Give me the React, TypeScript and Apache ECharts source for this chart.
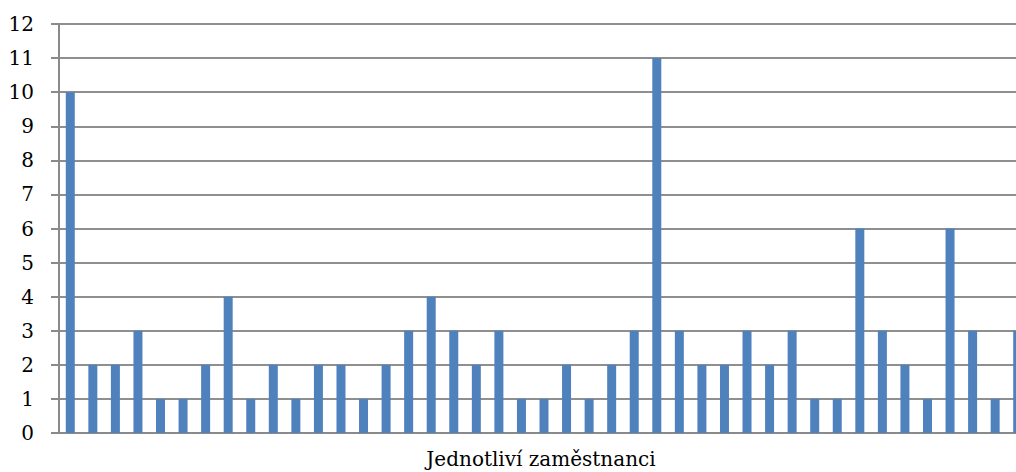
import React, { useEffect, useRef } from "react";
import * as echarts from "echarts";

// Employees (one bar each) and the count recorded for each of them
const employees: string[] = Array.from({ length: 43 }, (_, i) => String(i + 1));
const counts: number[] = [
  10, 2, 2, 3, 1, 1, 2, 4, 1, 2, 1, 2, 2, 1, 2, 3, 4, 3, 2, 3, 1, 1, 2, 1, 2, 3,
  11, 3, 2, 2, 3, 2, 3, 1, 1, 6, 3, 2, 1, 6, 3, 1, 3,
];
const yTicks: number[] = [0, 1, 2, 3, 4, 5, 6, 7, 8, 9, 10, 11, 12];
const xTitle = "Jednotliví zaměstnanci";

const FONT = "DejaVu Serif";

export default function App() {
  const ref = useRef<HTMLDivElement>(null);

  useEffect(() => {
    if (!ref.current) return;
    const chart = echarts.init(ref.current, undefined, { renderer: "svg" });
    chart.setOption({
      animation: false,
      backgroundColor: "#ffffff",
      // the plot runs a little past the right edge, so the last bar is clipped
      grid: {
        left: 59,
        top: 24,
        height: 409,
        width: 970,
        containLabel: false,
        outerBoundsMode: "none",
      },
      xAxis: {
        type: "category",
        data: employees,
        axisLine: { show: true, lineStyle: { color: "#8a8a8a", width: 2 } },
        axisTick: { show: false },
        axisLabel: { show: false },
        splitLine: { show: false },
      },
      yAxis: {
        type: "value",
        min: yTicks[0],
        max: yTicks[yTicks.length - 1],
        interval: 1,
        axisLine: { show: true, lineStyle: { color: "#8a8a8a", width: 2 } },
        axisTick: { show: true, length: 8, lineStyle: { color: "#8a8a8a", width: 2 } },
        axisLabel: {
          margin: 25,
          color: "#000000",
          fontFamily: FONT,
          fontSize: 20,
        },
        splitLine: { show: true, lineStyle: { color: "#8f8f8f", width: 2 } },
      },
      series: [
        {
          type: "bar",
          data: counts,
          barWidth: 9,
          itemStyle: { color: "#4F81BD" },
        },
      ],
      graphic: [
        {
          type: "text",
          x: 541,
          y: 459,
          style: {
            text: xTitle,
            fill: "#000000",
            fontFamily: FONT,
            fontSize: 20,
            align: "center",
            verticalAlign: "middle",
          },
        },
      ],
    });
    return () => chart.dispose();
  }, []);

  return (
    <div
      ref={ref}
      style={{ position: "fixed", left: 0, top: 0, width: 1016, height: 472 }}
    />
  );
}
